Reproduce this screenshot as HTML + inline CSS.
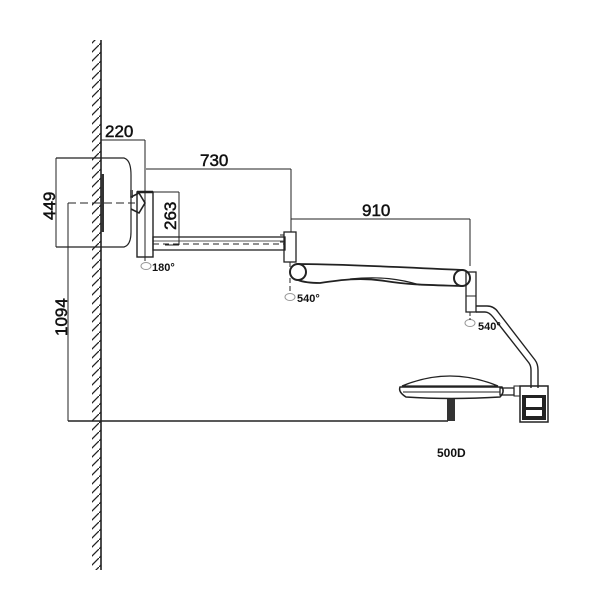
<!DOCTYPE html>
<html><head><style>body{margin:0;background:#fff}svg{display:block}</style></head><body>
<svg width="600" height="600" viewBox="0 0 600 600" xmlns="http://www.w3.org/2000/svg" font-family="Liberation Sans, sans-serif">
<defs>
<pattern id="h" width="9" height="9" patternUnits="userSpaceOnUse">
<line x1="0" y1="9" x2="9" y2="0" stroke="#222" stroke-width="1.3"/>
</pattern>
</defs>
<g fill="none" stroke="#222">
<rect x="92" y="40" width="9" height="530" fill="url(#h)" stroke="none"/>
<line x1="101" y1="40" x2="101" y2="570" stroke-width="1.6"/>
<path d="M56 158 H124 Q131 160 131 175 V232 Q131 245 124 247 H56" stroke-width="1.2"/>
<rect x="101" y="174" width="3" height="58" fill="#333" stroke="none"/>
<rect x="130" y="190" width="3" height="8" fill="#555" stroke="none"/>
<line x1="56" y1="158" x2="56" y2="247"/>
<line x1="68" y1="203" x2="135" y2="203" stroke-dasharray="8,4"/>
<line x1="68" y1="203" x2="68" y2="421"/>
<line x1="68" y1="421" x2="448" y2="421" stroke-width="1.4"/>
<line x1="101" y1="140" x2="145" y2="140"/>
<line x1="145" y1="140" x2="145" y2="258"/>
<line x1="146" y1="169" x2="291" y2="169"/>
<line x1="291" y1="169" x2="291" y2="232"/>
<line x1="291" y1="219" x2="470" y2="219"/>
<line x1="470" y1="219" x2="470" y2="266"/>
<path d="M131 197 L139 193 L145 203 L139 213 L131 209" stroke-width="1.6"/>
<rect x="137" y="192" width="16" height="65" stroke-width="1.4"/>
<line x1="137" y1="192" x2="153" y2="192" stroke-width="2.5"/>
<line x1="145" y1="192" x2="145" y2="262" stroke-dasharray="6,3"/>
<line x1="153" y1="192" x2="179" y2="192"/>
<line x1="179" y1="192" x2="179" y2="245"/>
<line x1="165" y1="245" x2="179" y2="245"/>
<rect x="153" y="237" width="132" height="13" stroke-width="1.3"/>
<line x1="153" y1="241" x2="285" y2="241" stroke-width="0.8"/>
<line x1="153" y1="244" x2="285" y2="244" stroke-dasharray="6,4"/>
<rect x="284" y="232" width="12" height="30" stroke-width="1.3"/>
<line x1="280" y1="235" x2="284" y2="235"/><line x1="280" y1="242" x2="284" y2="242"/>
<ellipse cx="146" cy="266" rx="5" ry="3.5" stroke="#999"/>
<path d="M298 264 C340 264 420 268 462 270 L462 286 C430 285 410 285 385 281 C360 277 340 280 320 283 C310 283 303 282 298 280 Z" stroke-width="1.8"/>
<path d="M350 279 C380 276 400 279 420 285" stroke-width="1.2"/>
<circle cx="298" cy="272" r="8" stroke-width="2" fill="#fff"/>
<circle cx="462" cy="278" r="8" stroke-width="2" fill="#fff"/>
<ellipse cx="290" cy="297" rx="5" ry="3.5" stroke="#999"/>
<line x1="290" y1="262" x2="290" y2="293" stroke-dasharray="5,3"/>
<rect x="466" y="272" width="10" height="40" stroke-width="1.3"/>
<line x1="466" y1="296" x2="476" y2="296"/>
<path d="M476 306 H487 Q494 306 498 312 L535 360 Q538 364 538 370 V388" stroke-width="1.4"/>
<path d="M476 312 H485 Q489 312 493 317 L529 363 Q531 366 531 370 V388" stroke-width="1.4"/>
<ellipse cx="470" cy="323" rx="5" ry="3.5" stroke="#999"/>
<line x1="470" y1="312" x2="470" y2="320" stroke-dasharray="4,2"/>
<path d="M402 386 Q450 366 498 386 Z" stroke-width="1.3"/>
<path d="M400 387 H502 Q505 392 500 397 Q450 400 406 397 Q398 392 400 387Z" stroke-width="1.5"/>
<line x1="403" y1="392" x2="500" y2="392"/>
<rect x="447" y="399" width="8" height="22" fill="#333" stroke="none"/>
<rect x="500" y="388" width="14" height="7" stroke-width="1.3"/>
<rect x="514" y="386" width="6" height="10"/>
<rect x="520" y="386" width="28" height="36" stroke-width="1.5"/>
<rect x="522" y="395" width="24" height="25" fill="#222" stroke="none"/>
<rect x="526" y="398" width="16" height="9" fill="#fff" stroke="none"/>
<rect x="526" y="410" width="16" height="6" fill="#fff" stroke="none"/>
</g>
<g fill="#111" font-size="17" stroke="#111" stroke-width="0.5">
<text x="105" y="137">220</text>
<text x="200" y="166">730</text>
<text x="362" y="216">910</text>
<text transform="translate(55,220) rotate(-90)">449</text>
<text transform="translate(176,230) rotate(-90)">263</text>
<text transform="translate(67,336) rotate(-90)">1094</text>
</g>
<g fill="#111" font-size="11" font-weight="bold">
<text x="152" y="271">180°</text>
<text x="297" y="302">540°</text>
<text x="478" y="330">540°</text>
<text x="437" y="457" font-size="12">500D</text>
</g>
</svg>
</body></html>
